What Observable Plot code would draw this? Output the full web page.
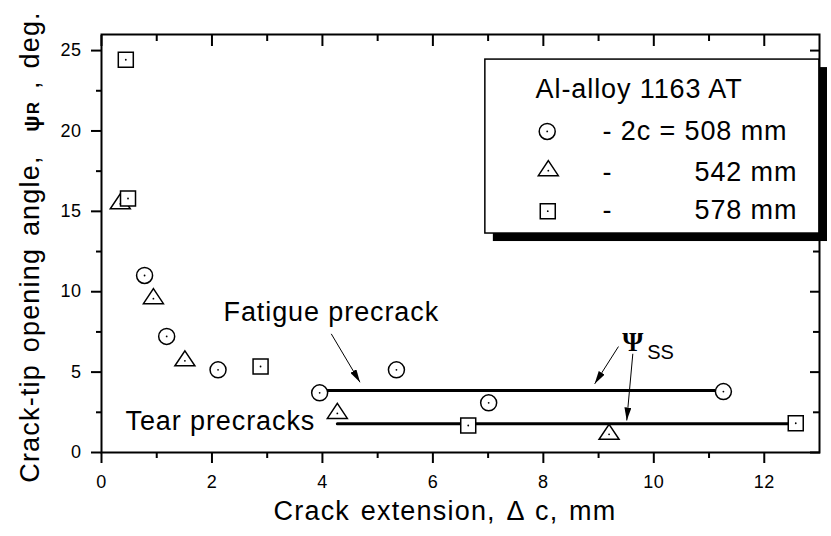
<!DOCTYPE html>
<html>
<head>
<meta charset="utf-8">
<script src="https://cdn.jsdelivr.net/npm/d3@7"></script>
<script src="https://cdn.jsdelivr.net/npm/@observablehq/plot@0.6"></script>
<style>
  body { margin: 0; background: #fff; }
  .ann text { letter-spacing: 0.9px; }
  .leg text { letter-spacing: 0.9px; }
  .ticklab text { letter-spacing: 0.5px; }
</style>
</head>
<body>
<div id="chart"></div>
<script>
// ---- Data ----
const series508X = [0.78, 1.18, 2.11, 3.95, 5.34, 7.01, 11.26];
const series508Y = [11.01, 7.22, 5.14, 3.71, 5.14, 3.09, 3.79];
const series542X = [0.34, 0.94, 1.51, 4.27, 9.19];
const series542Y = [15.47, 9.57, 5.70, 2.43, 1.13];
const series578X = [0.44, 0.48, 2.88, 6.64, 12.57];
const series578Y = [24.43, 15.80, 5.35, 1.68, 1.82];

// steady-state levels (psi_SS)
const fatigueSSX = [3.95, 11.26];
const fatigueSSY = [3.86, 3.86];
const tearSSX = [4.27, 12.57];
const tearSSY = [1.79, 1.79];

// ticks
const xMajor = [0, 2, 4, 6, 8, 10, 12];
const xMinor = [1, 3, 5, 7, 9, 11];
const yMajor = [0, 5, 10, 15, 20, 25];
const yMinor = [2.5, 7.5, 12.5, 17.5, 22.5];

// legend labels
const legendTitle = "Al-alloy 1163 AT";
const legendRows = ["- 2c = 508 mm", "542 mm", "578 mm"];

// annotations (data units)
const annTexts = [
  {x: 2.21, y: 8.73, text: "Fatigue precrack"},
  {x: 0.435, y: 1.93, text: "Tear precracks"}
];
const annArrows = [
  {x1: 4.16, y1: 7.38, x2: 4.68, y2: 4.37},
  {x1: 9.36, y1: 6.59, x2: 8.93, y2: 4.27},
  {x1: 9.62, y1: 6.14, x2: 9.51, y2: 1.99}
];

const pts = (xs, ys) => xs.map((x, i) => ({x, y: ys[i]}));
const d508 = pts(series508X, series508Y);
const d542 = pts(series542X, series542Y);
const d578 = pts(series578X, series578Y);

const triangleSymbol = {
  draw(ctx) {
    ctx.moveTo(0, -10);
    ctx.lineTo(10, 5);
    ctx.lineTo(-10, 5);
    ctx.closePath();
  }
};

const legendBox = [{x1: 6.95, x2: 13, y1: 13.62, y2: 24.44}];
const legSym = {circle: {x: 8.07, y: 19.97}, triangle: {x: 8.09, y: 17.53}, square: {x: 8.08, y: 15.01}};

const font = "Liberation Sans, Arial, Helvetica, sans-serif";
const noLabel = () => "";

const chart = Plot.plot({
  width: 831,
  height: 536,
  marginLeft: 101,
  marginRight: 12,
  marginTop: 34,
  marginBottom: 84,
  x: {domain: [0, 13]},
  y: {domain: [0, 26]},
  style: {fontFamily: font, fontSize: "18px", background: "#fff", color: "#000", overflow: "visible"},
  marks: [
    // tick marks: bottom / left outward, top / right inward
    Plot.axisX({ticks: xMajor, anchor: "bottom", tickSize: 11, strokeWidth: 2, label: null, tickFormat: noLabel}),
    Plot.axisX({ticks: xMinor, anchor: "bottom", tickSize: 6, strokeWidth: 2, label: null, tickFormat: noLabel}),
    Plot.axisX({ticks: xMajor, anchor: "top", tickSize: -11, strokeWidth: 2, label: null, tickFormat: noLabel}),
    Plot.axisX({ticks: xMinor, anchor: "top", tickSize: -6, strokeWidth: 2, label: null, tickFormat: noLabel}),
    Plot.axisY({ticks: yMajor, anchor: "left", tickSize: 10, strokeWidth: 2, label: null, tickFormat: noLabel}),
    Plot.axisY({ticks: yMinor, anchor: "left", tickSize: 5, strokeWidth: 2, label: null, tickFormat: noLabel}),
    Plot.axisY({ticks: yMajor, anchor: "right", tickSize: -10, strokeWidth: 2, label: null, tickFormat: noLabel}),
    Plot.axisY({ticks: yMinor, anchor: "right", tickSize: -7, strokeWidth: 2, label: null, tickFormat: noLabel}),

    // tick labels
    Plot.text(xMajor, {x: d => d, y: 0, dy: 29.5, text: d => String(d), textAnchor: "middle", lineAnchor: "middle", fontSize: 18, fill: "black", className: "ticklab"}),
    Plot.text(yMajor, {x: 0, y: d => d, dx: -20, text: d => String(d), textAnchor: "end", lineAnchor: "middle", fontSize: 18, fill: "black", className: "ticklab"}),

    // steady-state lines
    Plot.line(pts(fatigueSSX, fatigueSSY), {x: "x", y: "y", stroke: "black", strokeWidth: 3}),
    Plot.line(pts(tearSSX, tearSSY), {x: "x", y: "y", stroke: "black", strokeWidth: 3}),

    // data markers
    Plot.dot(d508, {x: "x", y: "y", symbol: "circle", r: 8, fill: "white", stroke: "black", strokeWidth: 1.5}),
    Plot.dot(d542, {x: "x", y: "y", symbol: triangleSymbol, r: 8, fill: "white", stroke: "black", strokeWidth: 1.5}),
    Plot.dot(d578, {x: "x", y: "y", symbol: "square", r: 8.46, fill: "white", stroke: "black", strokeWidth: 1.5}),
    Plot.dot([...d508, ...d542, ...d578], {x: "x", y: "y", r: 0.9, fill: "black"}),

    // annotations
    Plot.link(annArrows, {x1: "x1", y1: "y1", x2: "x2", y2: "y2", stroke: "black", strokeWidth: 1, className: "annarrow"}),
    Plot.text(annTexts, {x: "x", y: "y", text: "text", textAnchor: "start", lineAnchor: "middle", fontSize: 27, fill: "black", className: "ann"}),
    Plot.text(["Ψ"], {x: 9.62, y: 6.86, textAnchor: "middle", lineAnchor: "middle", fontSize: 27, fontWeight: "bold", fontFamily: "Liberation Serif, DejaVu Serif, serif", fill: "black"}),
    Plot.text(["SS"], {x: 9.88, y: 6.19, textAnchor: "start", lineAnchor: "middle", fontSize: 20, fill: "black"}),

    // legend box with shadow
    Plot.rect(legendBox, {x1: "x1", x2: "x2", y1: "y1", y2: "y2", fill: "black", dx: 8, dy: 8}),
    Plot.rect(legendBox, {x1: "x1", x2: "x2", y1: "y1", y2: "y2", fill: "white", stroke: "black", strokeWidth: 1.5}),
    Plot.text([legendTitle], {x: 7.86, y: 22.59, textAnchor: "start", lineAnchor: "middle", fontSize: 27, fill: "black", className: "leg"}),
    Plot.dot([legSym.circle], {x: "x", y: "y", symbol: "circle", r: 8, fill: "white", stroke: "black", strokeWidth: 1.5}),
    Plot.dot([legSym.triangle], {x: "x", y: "y", symbol: triangleSymbol, r: 8, fill: "white", stroke: "black", strokeWidth: 1.5}),
    Plot.dot([legSym.square], {x: "x", y: "y", symbol: "square", r: 8.46, fill: "white", stroke: "black", strokeWidth: 1.5}),
    Plot.dot([legSym.circle, legSym.triangle, legSym.square], {x: "x", y: "y", r: 0.9, fill: "black"}),
    Plot.text([legendRows[0]], {x: 9.07, y: 20.0, textAnchor: "start", lineAnchor: "middle", fontSize: 27, fill: "black", className: "leg"}),
    Plot.text(["-", "-"], {x: [9.07, 9.07], y: [17.42, 15.05], textAnchor: "start", lineAnchor: "middle", fontSize: 27, fill: "black", className: "leg"}),
    Plot.text([legendRows[1], legendRows[2]], {x: [12.6, 12.6], y: [17.42, 15.05], text: d => d, textAnchor: "end", lineAnchor: "middle", fontSize: 27, fill: "black", className: "leg"}),

    Plot.frame({stroke: "black", strokeWidth: 2})
  ]
});

document.getElementById("chart").appendChild(chart);

// arrowheads
const svg = d3.select(chart);
const defs = svg.insert("defs", ":first-child");
defs.append("marker")
  .attr("id", "ahead")
  .attr("viewBox", "0 0 13 7")
  .attr("refX", 13).attr("refY", 3.5)
  .attr("markerWidth", 13).attr("markerHeight", 7)
  .attr("markerUnits", "userSpaceOnUse")
  .attr("orient", "auto")
  .append("path").attr("d", "M0,0 L13,3.5 L0,7 Z").attr("fill", "black");
svg.selectAll(".annarrow path, .annarrow line").attr("marker-end", "url(#ahead)");

// axis titles
svg.append("text")
  .attr("x", 445).attr("y", 520)
  .attr("text-anchor", "middle")
  .attr("font-size", 27).attr("font-family", font).attr("fill", "black")
  .style("letter-spacing", "1.2px").style("word-spacing", "2px")
  .text("Crack extension, Δ c, mm");

const yt = svg.append("text")
  .attr("transform", "translate(39,247) rotate(-90)")
  .attr("text-anchor", "middle")
  .attr("font-size", 27).attr("font-family", font).attr("fill", "black")
  .style("letter-spacing", "1.2px").style("word-spacing", "3px").style("white-space", "pre");
yt.append("tspan").text("Crack-tip opening angle,  ");
yt.append("tspan").attr("font-weight", "bold").attr("font-size", 22).text("ψ");
yt.append("tspan").attr("font-weight", "bold").attr("font-size", 17).text("R");
yt.append("tspan").text(" , deg.");
</script>
</body>
</html>
